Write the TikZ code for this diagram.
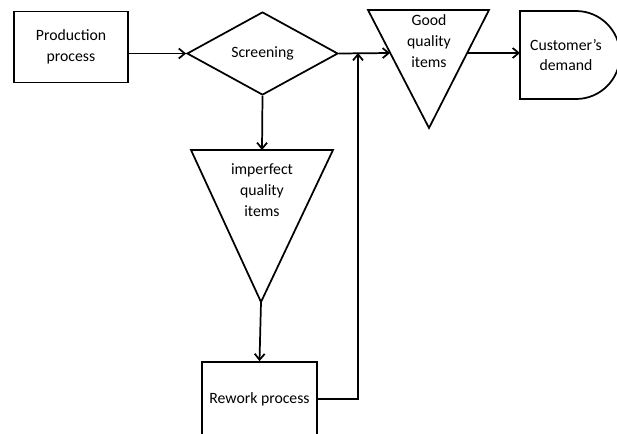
\documentclass[tikz,border=0pt]{standalone}
\usepackage{fontspec}
\setmainfont{Carlito}
\usetikzlibrary{shapes.geometric,arrows.meta}

\begin{document}
\begin{tikzpicture}[x=.75pt,y=-.75pt,line width=1.3pt,
    font=\fontsize{11.8}{15.5}\selectfont,
    >={Straight Barb[length=4.5pt,width=7.5pt]},
    procbox/.style={draw,rectangle,align=center,inner sep=0pt},
    label/.style={align=center,inner sep=0pt}]
    \useasboundingbox (0,0) rectangle (617,433);

    % boxes and decision
    \node[procbox,minimum width=85.5pt,minimum height=53.25pt] (prod)
      at (71,47) {Production\\process};
    \node[draw,diamond,minimum width=113.25pt,minimum height=62.25pt,
      inner sep=0pt] (screen) at (262.5,53.5) {Screening};
    \node[procbox,minimum width=86.25pt,minimum height=55.5pt] (rework)
      at (259.5,399) {Rework process};

    % storage triangles
    \draw (368,10) -- (489,10) -- (429,128) -- cycle;
    \node[label] (good) at (429,41) {Good\\quality\\items};
    \draw (191,150) -- (333,150) -- (261,302) -- cycle;
    \node[label] (bad) at (262,190) {imperfect\\quality\\items};

    % delay shape
    \draw (520,11) -- (576,11) arc[start angle=-90,end angle=90,radius=44]
      -- (520,99) -- cycle;
    \node[label] (demand) at (566,55) {Customer’s\\demand};

    \coordinate (goodin) at (390,53);
    \coordinate (goodout) at (467,53);
    \coordinate (badtop) at (262,150);
    \coordinate (badtip) at (261,302);
    \coordinate (join) at (358,53);

    \draw[->] (prod.east |- screen.west) -- (screen.west);
    \draw[->] (screen.east) -- (goodin);
    \draw[->] (goodout) -- (520,53);
    \draw[->] (screen.south) -- (badtop);
    \draw[->] (badtip) -- (rework.north);
    \draw[->] (rework.east) -| (join);
  \end{tikzpicture}
\end{document}
